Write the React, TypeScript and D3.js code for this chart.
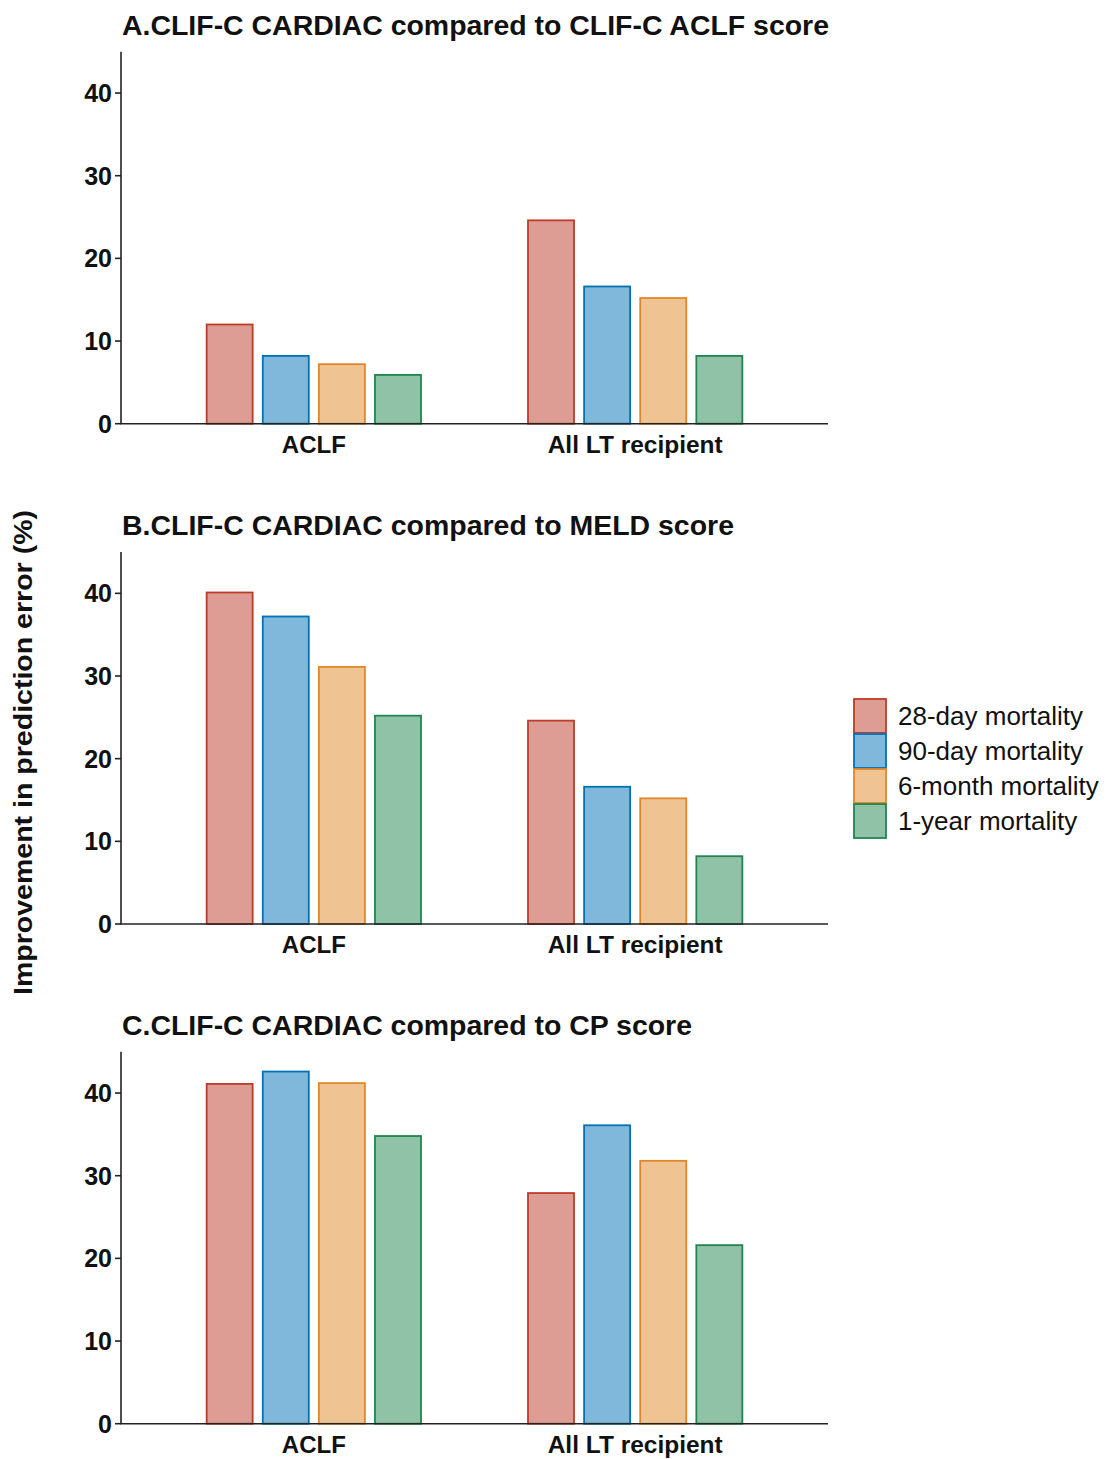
import React from "react";
import * as d3 from "d3";

// Categories and series
const groups = ["ACLF", "All LT recipient"];
const seriesNames = ["28-day mortality", "90-day mortality", "6-month mortality", "1-year mortality"];
const strokeColors = ["#BC3C29", "#0072B5", "#E18727", "#20854E"];

// Improvement in prediction error (%) — each array: [28-day, 90-day, 6-month, 1-year]
const clifcAclf_ACLF = [12.0, 8.2, 7.2, 5.9];
const clifcAclf_AllLT = [24.6, 16.6, 15.2, 8.2];
const meld_ACLF = [40.1, 37.2, 31.1, 25.2];
const meld_AllLT = [24.6, 16.6, 15.2, 8.2];
const cp_ACLF = [41.1, 42.6, 41.2, 34.8];
const cp_AllLT = [27.9, 36.1, 31.8, 21.6];

const panelTitles = [
  "A.CLIF-C CARDIAC compared to CLIF-C ACLF score",
  "B.CLIF-C CARDIAC compared to MELD score",
  "C.CLIF-C CARDIAC compared to CP score",
];
const yTicks = [0, 10, 20, 30, 40];
const yMax = 45;
const yTitle = "Improvement in prediction error (%)";

const panelData = [
  [clifcAclf_ACLF, clifcAclf_AllLT],
  [meld_ACLF, meld_AllLT],
  [cp_ACLF, cp_AllLT],
];

// Layout
const W = 1110;
const H = 1459;
const axisLeft = 121;
const axisRight = 828;
const panelZeros = [423.7, 924, 1423.7];
const panelHeight = 372;
const titleWidths = [707, 612, 570];
const groupLabelWidths = [64, 175];
const FONT = "Liberation Sans, Arial, Helvetica, sans-serif";

function Panel({ idx }: { idx: number }) {
  const zero = panelZeros[idx];
  const y = d3.scaleLinear().domain([0, yMax]).range([zero, zero - panelHeight]);
  const x = d3.scalePoint<string>().domain(groups).range([axisLeft, axisRight]).padding(0.6);
  const groupHalf = x.step() * 0.3335;
  const inner = d3
    .scaleBand<string>()
    .domain(seriesNames)
    .range([-groupHalf, groupHalf])
    .paddingInner(0.18)
    .paddingOuter(0);
  const values = panelData[idx];

  return (
    <g>
      <text
        x={122}
        y={zero - panelHeight - 17}
        fontFamily={FONT}
        fontWeight="bold"
        fontSize={27}
        fill="#111"
        textLength={titleWidths[idx]}
        lengthAdjust="spacingAndGlyphs"
      >
        {panelTitles[idx]}
      </text>
      {groups.map((g, gi) =>
        seriesNames.map((s, si) => {
          const v = values[gi][si];
          const bx = (x(g) as number) + (inner(s) as number);
          return (
            <rect
              key={g + s}
              x={bx}
              y={y(v)}
              width={inner.bandwidth()}
              height={y(0) - y(v)}
              fill={strokeColors[si]}
              fillOpacity={0.5}
              stroke={strokeColors[si]}
              strokeWidth={1.8}
            />
          );
        })
      )}
      {/* y axis */}
      <line x1={axisLeft} x2={axisLeft} y1={y(yMax)} y2={y(0)} stroke="#222" strokeWidth={1.6} />
      {yTicks.map((t) => (
        <g key={t}>
          <line x1={axisLeft - 6} x2={axisLeft} y1={y(t)} y2={y(t)} stroke="#222" strokeWidth={1.6} />
          <text
            x={112}
            y={y(t)}
            dy="0.36em"
            textAnchor="end"
            fontFamily={FONT}
            fontWeight="bold"
            fontSize={25}
            fill="#111"
          >
            {t}
          </text>
        </g>
      ))}
      {/* x axis */}
      <line x1={axisLeft - 0.8} x2={axisRight} y1={y(0)} y2={y(0)} stroke="#222" strokeWidth={1.6} />
      {groups.map((g, gi) => (
        <text
          key={g}
          x={x(g) as number}
          y={y(0) + 29}
          textAnchor="middle"
          fontFamily={FONT}
          fontWeight="bold"
          fontSize={24}
          fill="#111"
          textLength={groupLabelWidths[gi]}
          lengthAdjust="spacingAndGlyphs"
        >
          {g}
        </text>
      ))}
    </g>
  );
}

export default function App() {
  const legendY = d3.scaleBand<string>().domain(seriesNames).range([699, 838]).paddingInner(0.03);
  return (
    <svg
      width={W}
      height={H}
      style={{ position: "absolute", left: 0, top: 0, background: "#fff" }}
    >
      <rect width={W} height={H} fill="#fff" />
      {[0, 1, 2].map((i) => (
        <Panel key={i} idx={i} />
      ))}
      <text
        transform={`translate(32, 752.5) rotate(-90)`}
        textAnchor="middle"
        fontFamily={FONT}
        fontWeight="bold"
        fontSize={25}
        fill="#111"
        textLength={485}
        lengthAdjust="spacingAndGlyphs"
      >
        {yTitle}
      </text>
      {seriesNames.map((s, i) => (
        <g key={s}>
          <rect
            x={854}
            y={legendY(s) as number}
            width={32}
            height={legendY.bandwidth()}
            fill={strokeColors[i]}
            fillOpacity={0.5}
            stroke={strokeColors[i]}
            strokeWidth={1.8}
          />
          <text
            x={898}
            y={(legendY(s) as number) + legendY.bandwidth() / 2}
            dy="0.36em"
            fontFamily={FONT}
            fontSize={26}
            fill="#111"
          >
            {s}
          </text>
        </g>
      ))}
    </svg>
  );
}
